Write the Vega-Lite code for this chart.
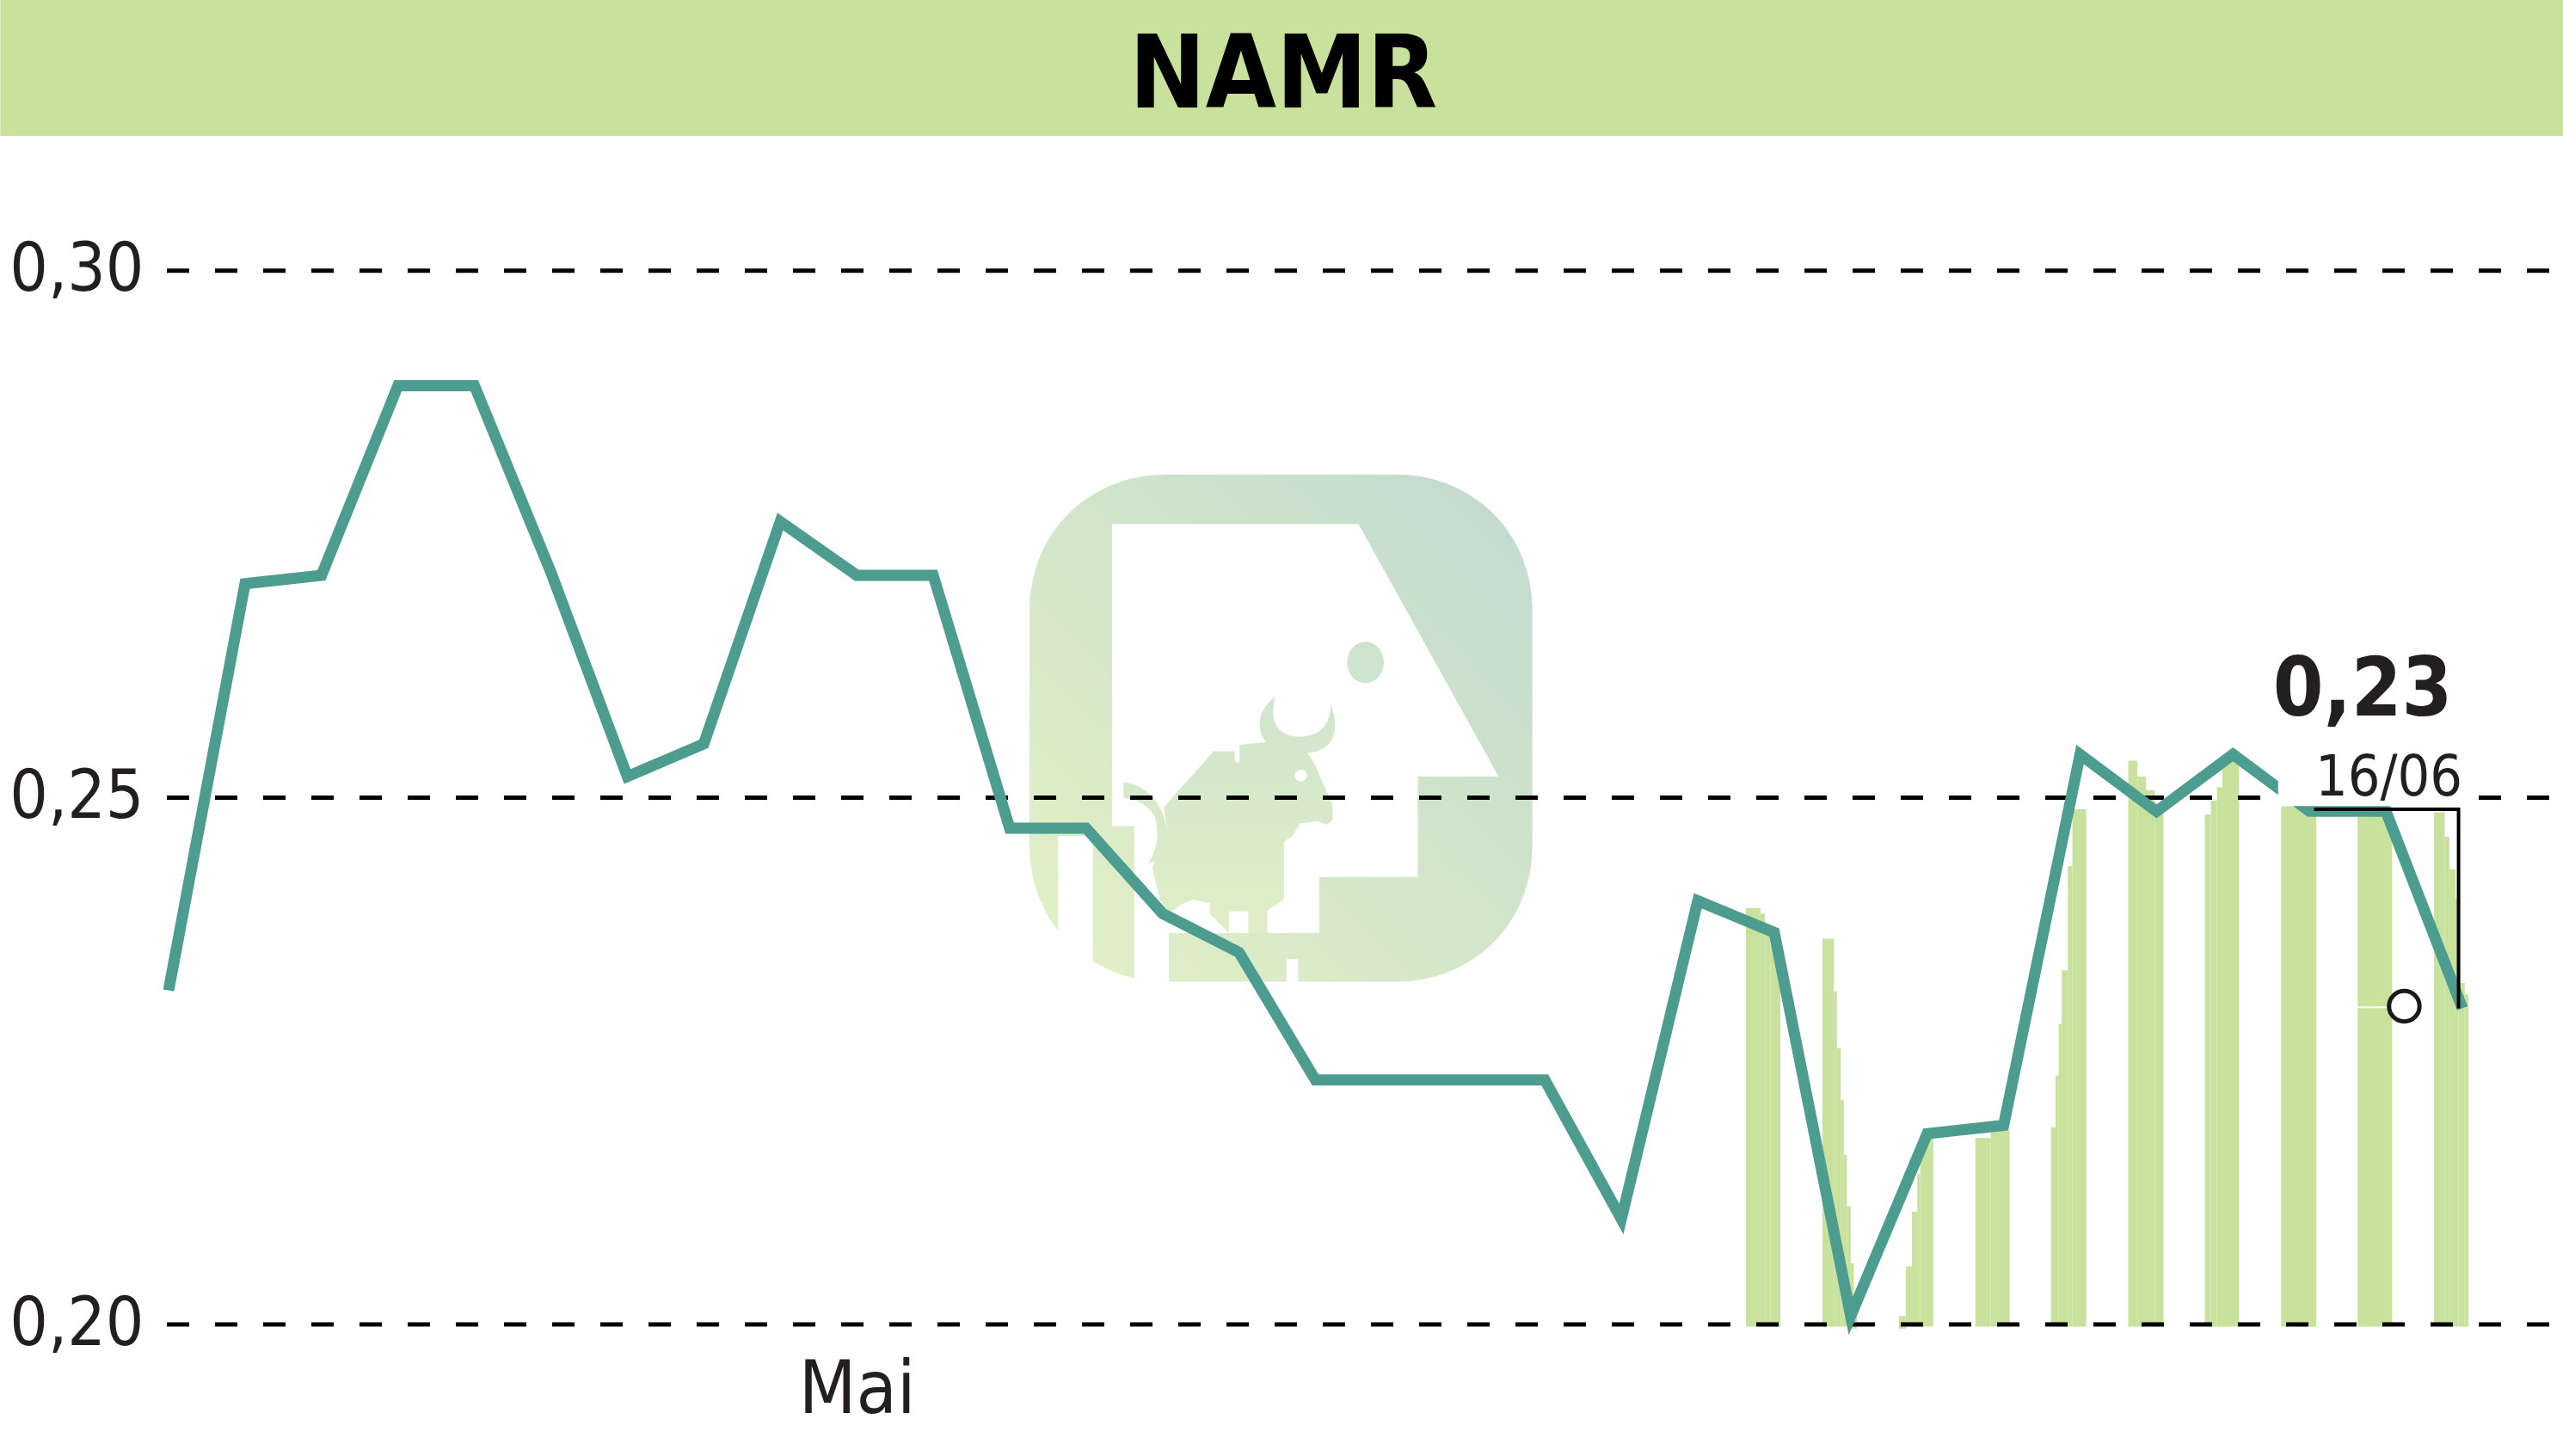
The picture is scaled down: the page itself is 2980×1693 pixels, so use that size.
{"$schema":"https://vega.github.io/schema/vega-lite/v6.json","autosize":"none","width":2786,"height":1540,"padding":{"left":194,"top":0,"right":0,"bottom":153},"background":"#ffffff","config":{"view":{"stroke":null},"font":"DejaVu Sans Condensed"},
"encoding":{"x":{"field":"day","type":"quantitative","scale":{"domain":[-0.0225,31.316],"nice":false,"zero":false},"axis":{"values":[9],"labelExpr":"'Mai'","title":null,"grid":false,"domain":false,"ticks":false,"labelFontSize":86,"labelFont":"DejaVu Sans Condensed","labelColor":"#231f20","labelPadding":34,"labelFlush":false,"labelOverlap":false}},"y":{"field":"value","type":"quantitative","scale":{"domain":[0.2,0.3257],"nice":false,"zero":false},"axis":{"values":[0.2,0.25,0.3],"labelExpr":"replace(format(datum.value,'.2f'),'.',',')","title":null,"grid":false,"domain":false,"ticks":false,"labelFontSize":78,"labelFont":"DejaVu Sans Condensed","labelColor":"#231f20","labelPadding":27,"labelOverlap":false}}},
"layer":[
{"data":{"values":[{"day":-2.2,"end":31.316,"value":0.3128,"top":0.3257}]},"mark":{"type":"rect","color":"#c8e29e"},"encoding":{"x2":{"field":"end"},"y2":{"field":"top"}}},
{"data":{"values":[{"day":14.55,"value":0.2566}]},"mark":{"type":"point","filled":true,"opacity":1,"strokeWidth":0,"size":360000,"shape":"M -0.975 -0.45 C -0.975 -0.78 -0.72 -0.983 -0.45 -0.983 L 0.45 -0.983 C 0.72 -0.983 0.974 -0.78 0.974 -0.45 L 0.974 0.45 C 0.974 0.78 0.72 0.983 0.45 0.983 L -0.45 0.983 C -0.72 0.983 -0.975 0.78 -0.975 0.45 Z","fill":{"gradient":"linear","x1":0,"y1":1,"x2":1,"y2":0,"stops":[{"offset":0,"color":"#e4f1c6"},{"offset":1,"color":"#c0dace"}]}}},
{"data":{"values":[{"day":14.55,"value":0.2566}]},"mark":{"type":"point","filled":true,"opacity":1,"strokeWidth":0,"size":360000,"fill":"#ffffff","shape":"M -0.655 -0.791 L 0.3 -0.791 L 0.843 0.188 L 0.53 0.188 L 0.53 0.577 L 0.148 0.577 L 0.148 0.795 L -0.569 0.795 L -0.569 0.38 L -0.655 0.38 Z M -0.864 0.419 L -0.73 0.419 L -0.73 1 L -0.864 1 Z M -0.569 0.38 L -0.435 0.38 L -0.435 1 L -0.569 1 Z M 0.021 0.896 L 0.066 0.896 L 0.066 1 L 0.021 1 Z"}},
{"data":{"values":[{"day":14.55,"value":0.2566}]},"mark":{"type":"point","filled":true,"opacity":1,"strokeWidth":0,"size":360000,"fill":{"gradient":"linear","x1":0,"y1":0,"x2":0,"y2":1,"stops":[{"offset":0,"color":"#cde3ce"},{"offset":1,"color":"#e0eec8"}]},"shape":"M -0.455 0.307 L -0.261 0.09 L -0.179 0.09 L -0.179 0.132 L -0.161 0.132 L -0.161 0.065 L -0.06 0.055 Q -0.12 -0.04 -0.023 -0.123 Q -0.06 0.03 0.074 0.034 Q 0.19 0.03 0.193 -0.093 Q 0.25 0.08 0.103 0.097 L 0.133 0.146 L 0.2 0.3 L 0.2 0.356 L 0.178 0.375 L 0.141 0.361 L 0.074 0.37 L 0.044 0.419 L 0.011 0.441 L 0.011 0.665 L -0.053 0.707 L -0.053 0.795 L -0.127 0.795 L -0.127 0.711 L -0.202 0.711 L -0.202 0.795 L -0.276 0.721 L -0.276 0.679 L -0.343 0.665 L -0.391 0.686 L -0.435 0.721 L -0.47 0.665 L -0.499 0.539 L -0.477 0.483 L -0.44 0.398 Z M -0.611 0.209 Q -0.47 0.23 -0.44 0.4 Q -0.43 0.5 -0.515 0.525 Q -0.46 0.44 -0.49 0.34 Q -0.53 0.28 -0.61 0.27 Z M 0.256 -0.254 A 0.071 0.08 0 1 1 0.398 -0.254 A 0.071 0.08 0 1 1 0.256 -0.254 Z"}},
{"data":{"values":[{"day":14.81,"value":0.2521}]},"mark":{"type":"point","filled":true,"opacity":1,"strokeWidth":0,"size":200,"shape":"circle","fill":"#ffffff"}},
{"data":{"values":[
{"day":20.63,"end":20.82,"value":0.2395,"base":0.1998},{"day":20.82,"end":20.88,"value":0.239,"base":0.1998},{"day":20.88,"end":20.95,"value":0.238,"base":0.1998},{"day":20.95,"end":21.08,"value":0.236,"base":0.1998},
{"day":21.63,"end":21.78,"value":0.2366,"base":0.1998},{"day":21.78,"end":21.82,"value":0.2316,"base":0.1998},{"day":21.82,"end":21.87,"value":0.2262,"base":0.1998},{"day":21.87,"end":21.91,"value":0.2213,"base":0.1998},{"day":21.91,"end":21.95,"value":0.2161,"base":0.1998},{"day":21.95,"end":22.0,"value":0.2112,"base":0.1998},{"day":22.0,"end":22.04,"value":0.2058,"base":0.1996},{"day":22.04,"end":22.08,"value":0.2014,"base":0.1996},
{"day":22.63,"end":22.72,"value":0.2008,"base":0.1996},{"day":22.72,"end":22.8,"value":0.2055,"base":0.1998},{"day":22.8,"end":22.87,"value":0.2107,"base":0.1998},{"day":22.87,"end":22.91,"value":0.2143,"base":0.1998},{"day":22.91,"end":23.08,"value":0.218,"base":0.1998},
{"day":23.63,"end":23.83,"value":0.2177,"base":0.1998},{"day":23.83,"end":24.08,"value":0.2184,"base":0.1998},
{"day":24.62,"end":24.68,"value":0.2187,"base":0.1998},{"day":24.68,"end":24.72,"value":0.2236,"base":0.1998},{"day":24.72,"end":24.76,"value":0.2285,"base":0.1998},{"day":24.76,"end":24.84,"value":0.2336,"base":0.1998},{"day":24.84,"end":24.9,"value":0.2435,"base":0.1998},{"day":24.9,"end":25.08,"value":0.2489,"base":0.1998},
{"day":25.63,"end":25.75,"value":0.2535,"base":0.1998},{"day":25.75,"end":25.86,"value":0.252,"base":0.1998},{"day":25.86,"end":25.98,"value":0.2507,"base":0.1998},{"day":25.98,"end":26.09,"value":0.2494,"base":0.1998},
{"day":26.63,"end":26.71,"value":0.2484,"base":0.1998},{"day":26.71,"end":26.79,"value":0.2497,"base":0.1998},{"day":26.79,"end":26.86,"value":0.251,"base":0.1998},{"day":26.86,"end":26.94,"value":0.2531,"base":0.1998},{"day":26.94,"end":27.08,"value":0.2536,"base":0.1998},
{"day":27.63,"end":28.09,"value":0.2492,"base":0.1998},
{"day":28.63,"end":29.08,"value":0.2492,"base":0.1998},
{"day":29.63,"end":29.77,"value":0.2486,"base":0.1998},{"day":29.77,"end":29.83,"value":0.2463,"base":0.1998},{"day":29.83,"end":29.91,"value":0.2432,"base":0.1998},{"day":29.91,"end":29.95,"value":0.2404,"base":0.1998},{"day":29.95,"end":30.03,"value":0.2324,"base":0.1998},{"day":30.03,"end":30.08,"value":0.2313,"base":0.1998}
]},"mark":{"type":"rect","color":"#c8e29e","strokeWidth":0},"encoding":{"x2":{"field":"end"},"y2":{"field":"base"}}},
{"data":{"values":[{"day":28.63,"end":29.03,"value":0.2301}]},"mark":{"type":"rule","color":"#ffffff","strokeWidth":2},"encoding":{"x2":{"field":"end"}}},
{"data":{"values":[{"day":-0.0225,"end":31.316,"value":0.2},{"day":-0.0225,"end":31.316,"value":0.25},{"day":-0.0225,"end":31.316,"value":0.3}]},"mark":{"type":"rule","color":"#000000","strokeWidth":5,"strokeDash":[26,30]},"encoding":{"x2":{"field":"end"}}},
{"data":{"values":[{"day":0,"value":0.2317},{"day":1,"value":0.2703},{"day":2,"value":0.2711},{"day":3,"value":0.2891},{"day":4,"value":0.2891},{"day":5,"value":0.2714},{"day":6,"value":0.252},{"day":7,"value":0.2551},{"day":8,"value":0.2762},{"day":9,"value":0.2711},{"day":10,"value":0.2711},{"day":11,"value":0.2471},{"day":12,"value":0.2471},{"day":13,"value":0.239},{"day":14,"value":0.2353},{"day":15,"value":0.2232},{"day":16,"value":0.2232},{"day":17,"value":0.2232},{"day":18,"value":0.2232},{"day":19,"value":0.21},{"day":20,"value":0.2402},{"day":21,"value":0.2372},{"day":22,"value":0.2008},{"day":23,"value":0.2181},{"day":24,"value":0.2189},{"day":25,"value":0.2541},{"day":26,"value":0.2487},{"day":27,"value":0.2541},{"day":28,"value":0.2487},{"day":29,"value":0.2487},{"day":30,"value":0.23}]},"mark":{"type":"line","color":"#4d9c90","strokeWidth":13,"strokeJoin":"miter","strokeCap":"butt"}},
{"data":{"values":[{"day":27.59,"end":30.0,"value":0.2492,"top":0.256}]},"mark":{"type":"rect","color":"#ffffff"},"encoding":{"x2":{"field":"end"},"y2":{"field":"top"}}},
{"data":{"values":[{"n":1,"day":28.06,"value":0.2489},{"n":2,"day":29.95,"value":0.2489},{"n":3,"day":29.95,"value":0.23}]},"mark":{"type":"line","color":"#000000","strokeWidth":4,"strokeCap":"butt","strokeJoin":"miter"},"encoding":{"order":{"field":"n"}}},
{"data":{"values":[{"day":29.24,"value":0.2302}]},"mark":{"type":"point","shape":"circle","size":1257,"filled":false,"fill":"#ffffff","fillOpacity":1,"stroke":"#1a1a1a","strokeWidth":5,"opacity":1}},
{"data":{"values":[{"day":14.58,"value":0.3155,"label":"NAMR"}]},"mark":{"type":"text","font":"DejaVu Sans Condensed","fontWeight":"bold","fontSize":118,"align":"center","baseline":"alphabetic","color":"#000000"},"encoding":{"text":{"field":"label"}}},
{"data":{"values":[{"day":29.87,"value":0.2578,"label":"0,23"}]},"mark":{"type":"text","font":"DejaVu Sans Condensed","fontWeight":"bold","fontSize":94,"align":"right","baseline":"alphabetic","color":"#231f20"},"encoding":{"text":{"field":"label"}}},
{"data":{"values":[{"day":30.0,"value":0.2502,"label":"16/06"}]},"mark":{"type":"text","font":"DejaVu Sans Condensed","fontSize":66,"align":"right","baseline":"alphabetic","color":"#231f20"},"encoding":{"text":{"field":"label"}}}
]}
